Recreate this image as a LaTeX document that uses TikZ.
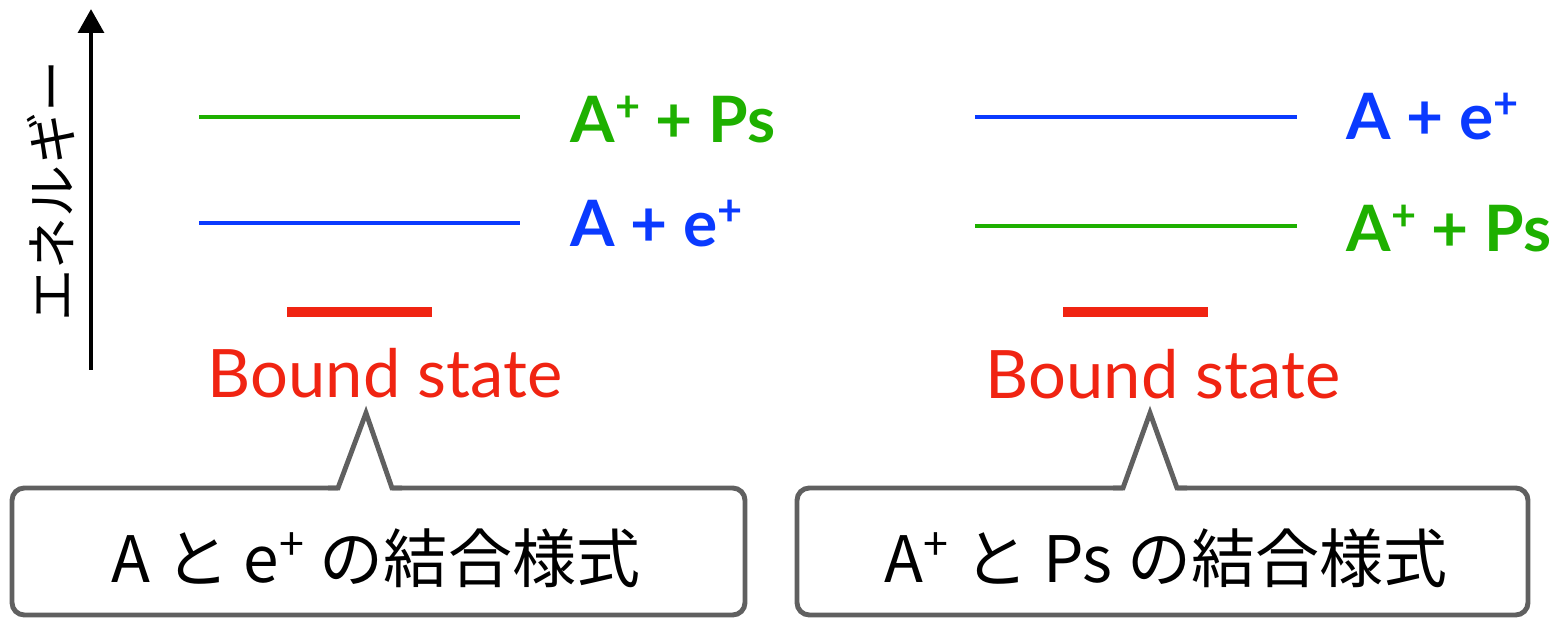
\documentclass[tikz,border=0pt]{standalone}
\usepackage{fontspec}
\setmainfont{Lato}
\newfontfamily\jpfont{Noto Sans CJK JP}
\usetikzlibrary{arrows.meta}
\definecolor{lvgreen}{RGB}{30,176,0}
\definecolor{lvblue}{RGB}{10,58,255}
\definecolor{lvred}{RGB}{240,36,18}
\definecolor{boxgray}{RGB}{96,96,96}
\newcommand{\supplus}{\raisebox{0.33em}{\fontsize{12.3}{14}\selectfont +}}
\tikzset{
  level/.style={line width=1.2pt},
  boundbar/.style={lvred, line width=3.1pt},
  lbl/.style={inner sep=0pt, anchor=base west, font=\fontsize{18.2}{22}\selectfont\bfseries},
  boundlbl/.style={inner sep=0pt, anchor=base, text=lvred, font=\fontsize{19}{22}\selectfont},
  callout/.style={draw=boxgray, line width=1.4pt},
  calltext/.style={inner sep=0pt, anchor=base, font=\jpfont\fontsize{18.2}{23}\selectfont},
}
\begin{document}
\begin{tikzpicture}[x=0.01cm, y=-0.01cm]
\useasboundingbox (0,0) rectangle (1557,619);
% energy axis
\coordinate (axb) at (91,370);
\coordinate (axt) at (91,9);
\draw[line width=1.4pt, -{Triangle[width=7.2pt,length=6.8pt]}] (axb) -- (axt);
\node[rotate=90, inner sep=0pt, font=\jpfont\fontsize{14.8}{16}\selectfont] (elab) at (51,191) {エネルギー};
% left diagram
\coordinate (lg1) at (199,117); \coordinate (lg2) at (520,117);
\coordinate (lb1) at (199,223); \coordinate (lb2) at (520,223);
\coordinate (lr1) at (287,312); \coordinate (lr2) at (432,312);
\draw[level, lvgreen] (lg1) -- (lg2);
\draw[level, lvblue] (lb1) -- (lb2);
\draw[boundbar] (lr1) -- (lr2);
\node[lbl, text=lvgreen] (lgl) at (570,142.7) {A\supplus{} + Ps};
\node[lbl, text=lvblue] (lbl1) at (570,246.7) {A + e\supplus};
\node[boundlbl] (lbs) at (385,398) {Bound state};
% right diagram
\coordinate (rb1) at (975,117); \coordinate (rb2) at (1297,117);
\coordinate (rg1) at (975,226); \coordinate (rg2) at (1297,226);
\coordinate (rr1) at (1063,312); \coordinate (rr2) at (1208,312);
\draw[level, lvblue] (rb1) -- (rb2);
\draw[level, lvgreen] (rg1) -- (rg2);
\draw[boundbar] (rr1) -- (rr2);
\node[lbl, text=lvblue] (rbl) at (1346,140) {A + e\supplus};
\node[lbl, text=lvgreen] (rgl) at (1346,251.7) {A\supplus{} + Ps};
\node[boundlbl] (rbs) at (1163,399) {Bound state};
% left callout
\draw[callout, rounded corners=3.5pt] (12,488) rectangle (745,615);
\fill[white] (338,492) -- (338,488) -- (366,413) -- (392,488) -- (392,492) -- cycle;
\draw[callout] (328,488) -- (338,488) -- (366,413) -- (392,488) -- (402,488);
\node[calltext] (lct) at (376,583) {A と e\textsuperscript{+} の結合様式};
% right callout
\draw[callout, rounded corners=3.5pt] (797,488) rectangle (1528,615);
\fill[white] (1123,492) -- (1123,488) -- (1150,413) -- (1177,488) -- (1177,492) -- cycle;
\draw[callout] (1113,488) -- (1123,488) -- (1150,413) -- (1177,488) -- (1187,488);
\node[calltext] (rct) at (1166,583) {A\textsuperscript{+} と Ps の結合様式};
\end{tikzpicture}
\end{document}
